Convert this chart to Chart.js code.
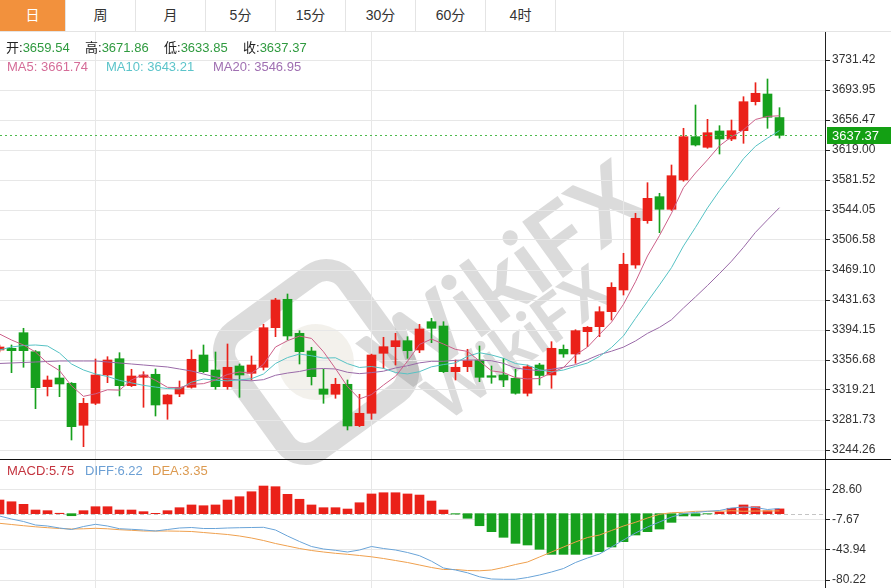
<!DOCTYPE html>
<html>
<head>
<meta charset="utf-8">
<script src="https://cdn.jsdelivr.net/npm/chart.js@4.4.1/dist/chart.umd.min.js"></script>
<style>
  body { margin: 0; width: 891px; height: 588px; overflow: hidden; background: #fff; position: relative;
         font-family: "Liberation Sans", "Noto Sans CJK SC", Arial, sans-serif; }
  #tabs { position: absolute; left: 0; top: 0; width: 891px; height: 31px; border-bottom: 1px solid #e4e4e4; display: flex; z-index: 3; background: #fff; }
  .tab { width: 70px; border-right: 1px solid #e4e4e4; box-sizing: border-box; text-align: center; line-height: 31px;
         font-size: 14px; color: #333; }
  .tab.on { width: 66px; background: #f2913d; color: #fff; }
  #main { position: absolute; left: 0; top: 32px; z-index: 1; }
  #macdBox { position: absolute; left: 0; top: 459px; width: 891px; height: 129px; border-top: 1px solid #111; box-sizing: border-box; z-index: 1; }
  .info { position: absolute; font-size: 13px; line-height: 16px; white-space: nowrap; z-index: 2; }
  .k { color: #222; } .g { color: #2f9a3f; }
  #wm { position: absolute; left: 0; top: 0; width: 891px; height: 588px; z-index: 0; overflow: hidden; }
  .wmtext { position: absolute; font: bold 96px Lato, sans-serif; color: rgba(110,110,110,0.25); white-space: nowrap;
            transform: translate(-50%, -50%) rotate(-36deg); }
  .wmlogo { position: absolute; width: 124px; height: 124px; border: 22px solid rgba(110,110,110,0.24); border-radius: 36px;
            transform: translate(-50%, -50%) rotate(-36deg); }
  .wmlogo::after { content: ""; position: absolute; left: 24px; top: 24px; width: 76px; height: 76px; border-radius: 50%;
            background: rgba(200,190,170,0.22); }
</style>
</head>
<body>
<div id="wm">
  <div class="wmlogo" style="left:316px; top:362px"></div>
  <div class="wmtext" style="left:502px; top:276px">WikiFX</div>
  <div class="wmtext" style="left:516px; top:342px; font-size:64px">WikiFX</div>
</div>

<div id="tabs">
  <div class="tab on">日</div><div class="tab">周</div><div class="tab">月</div><div class="tab">5分</div>
  <div class="tab">15分</div><div class="tab">30分</div><div class="tab">60分</div><div class="tab">4时</div>
</div>

<div class="info" style="left:6px; top:40px"><span class="k">开:</span><span class="g">3659.54</span></div>
<div class="info" style="left:85px; top:40px"><span class="k">高:</span><span class="g">3671.86</span></div>
<div class="info" style="left:164px; top:40px"><span class="k">低:</span><span class="g">3633.85</span></div>
<div class="info" style="left:243px; top:40px"><span class="k">收:</span><span class="g">3637.37</span></div>
<div class="info" style="left:7px; top:59px; color:#d56d98">MA5: 3661.74</div>
<div class="info" style="left:106px; top:59px; color:#5cc4ca">MA10: 3643.21</div>
<div class="info" style="left:213px; top:59px; color:#a070b2">MA20: 3546.95</div>

<canvas id="main" width="891" height="428"></canvas>
<div id="macdBox"><canvas id="macd" width="891" height="128"></canvas></div>

<div class="info" style="left:7px; top:463px; color:#c4343f">MACD:5.75</div>
<div class="info" style="left:85px; top:463px; color:#6b9fd4">DIFF:6.22</div>
<div class="info" style="left:152px; top:463px; color:#dc9a50">DEA:3.35</div>

<script>
// daily candles, oldest first (first one is cut by the left edge)
const opens = [3369.18, 3371.31, 3390.79, 3367.06, 3323.34, 3334.21, 3327.59, 3275.13, 3302.61, 3337.96,
  3358.32, 3324.59, 3335.08, 3338.83, 3301.73, 3314.23, 3322.59, 3362.94, 3344.20, 3323.34,
  3349.20, 3340.08, 3347.58, 3397.04, 3432.51, 3390.04, 3367.94, 3320.47, 3313.85, 3326.34,
  3274.63, 3290.12, 3365.06, 3373.31, 3380.80, 3369.18, 3404.53, 3399.16, 3342.08, 3348.33,
  3356.69, 3337.08, 3337.96, 3333.84, 3315.10, 3350.45, 3337.96, 3370.06, 3364.19, 3392.04,
  3398.29, 3417.03, 3444.13, 3475.36, 3530.69, 3560.67, 3544.93, 3581.53, 3635.62, 3622.38,
  3642.74, 3632.75, 3643.11, 3679.34, 3688.95, 3659.54];
const highs = [3375.43, 3375.43, 3396.29, 3368.50, 3336.71, 3350.07, 3328.50, 3308.85, 3357.94, 3360.82,
  3365.81, 3345.08, 3342.08, 3345.45, 3313.50, 3330.46, 3369.18, 3375.43, 3366.69, 3376.68,
  3351.70, 3361.69, 3401.29, 3433.76, 3439.13, 3393.29, 3372.56, 3345.08, 3333.84, 3331.71,
  3313.85, 3364.00, 3385.05, 3390.04, 3385.80, 3401.29, 3408.78, 3404.53, 3356.69, 3370.06,
  3374.18, 3349.20, 3358.82, 3345.08, 3350.45, 3352.57, 3379.55, 3375.43, 3394.50, 3398.50,
  3423.27, 3453.25, 3489.97, 3539.94, 3578.16, 3564.92, 3600.27, 3646.11, 3675.21, 3657.35,
  3649.36, 3656.48, 3685.58, 3703.07, 3707.69, 3671.86];
const lows = [3366.69, 3340.83, 3347.58, 3295.86, 3311.73, 3310.85, 3256.77, 3248.40, 3301.00, 3328.34,
  3311.73, 3323.50, 3297.61, 3286.74, 3282.62, 3310.85, 3321.50, 3341.00, 3320.10, 3320.10,
  3310.10, 3331.71, 3344.20, 3385.80, 3381.68, 3351.70, 3325.47, 3302.61, 3308.85, 3269.26,
  3273.50, 3282.62, 3346.33, 3350.45, 3358.82, 3365.81, 3378.30, 3341.00, 3331.71, 3342.08,
  3329.59, 3327.59, 3323.34, 3314.00, 3311.73, 3325.47, 3321.34, 3360.07, 3352.57, 3373.31,
  3385.80, 3406.66, 3437.89, 3471.24, 3527.45, 3515.70, 3543.50, 3580.00, 3624.00, 3621.13,
  3614.01, 3630.62, 3627.37, 3675.21, 3646.11, 3633.85];
const closes = [3372.93, 3368.31, 3368.31, 3322.09, 3331.71, 3326.72, 3273.38, 3302.61, 3337.96, 3356.69,
  3324.59, 3336.71, 3337.96, 3300.48, 3312.98, 3322.59, 3357.57, 3342.08, 3323.34, 3347.58,
  3337.96, 3350.45, 3397.04, 3431.64, 3386.67, 3367.06, 3335.83, 3313.85, 3326.34, 3274.25,
  3290.12, 3362.94, 3373.31, 3380.80, 3368.31, 3395.42, 3396.29, 3342.08, 3347.58, 3355.82,
  3335.08, 3335.08, 3331.71, 3315.10, 3348.33, 3337.33, 3371.31, 3364.19, 3393.29, 3397.54,
  3417.03, 3447.50, 3476.23, 3533.69, 3558.67, 3544.93, 3586.90, 3635.62, 3625.25, 3640.61,
  3632.75, 3643.11, 3679.34, 3689.83, 3659.85, 3637.37];

const ma5 = [3389.17, 3381.68, 3375.43, 3366.69, 3352.67, 3343.43, 3324.44, 3311.30, 3314.48, 3319.47,
  3319.05, 3331.71, 3338.78, 3331.29, 3322.54, 3322.14, 3326.32, 3327.14, 3331.71, 3338.63,
  3341.71, 3340.28, 3351.27, 3372.93, 3380.75, 3386.57, 3383.65, 3367.01, 3345.95, 3323.47,
  3308.08, 3313.50, 3325.39, 3336.28, 3355.10, 3376.16, 3382.83, 3376.58, 3369.94, 3367.44,
  3355.37, 3343.13, 3341.05, 3334.56, 3333.06, 3333.51, 3340.76, 3347.25, 3362.89, 3372.73,
  3388.67, 3403.91, 3426.32, 3454.40, 3486.62, 3512.20, 3540.08, 3571.96, 3590.27, 3606.66,
  3624.23, 3635.47, 3644.21, 3657.13, 3660.98, 3661.74];
const ma10 = [3369.18, 3372.93, 3374.80, 3375.43, 3374.18, 3365.44, 3351.70, 3344.20, 3339.21, 3336.07,
  3331.24, 3328.08, 3325.04, 3322.88, 3321.01, 3320.60, 3329.01, 3332.96, 3331.50, 3330.59,
  3331.93, 3333.30, 3339.21, 3352.32, 3359.69, 3364.14, 3361.97, 3359.14, 3359.44, 3352.11,
  3347.33, 3348.57, 3346.20, 3341.12, 3339.28, 3342.12, 3348.16, 3350.99, 3353.11, 3361.27,
  3365.76, 3362.98, 3358.82, 3352.25, 3350.25, 3344.44, 3341.94, 3344.15, 3348.72, 3352.90,
  3361.09, 3372.33, 3386.78, 3408.64, 3429.68, 3450.44, 3472.00, 3499.14, 3522.34, 3546.64,
  3568.22, 3587.78, 3608.09, 3623.70, 3633.82, 3643.21];
const ma20 = [3352.32, 3352.95, 3353.57, 3354.20, 3354.82, 3355.45, 3355.45, 3355.45, 3355.45, 3354.20,
  3352.95, 3351.70, 3350.45, 3349.20, 3347.95, 3345.45, 3342.95, 3339.21, 3335.46, 3333.33,
  3331.58, 3330.69, 3332.12, 3337.60, 3340.35, 3342.37, 3345.49, 3346.05, 3345.47, 3341.35,
  3339.63, 3340.94, 3342.70, 3346.72, 3349.49, 3353.13, 3355.06, 3355.06, 3356.28, 3356.69,
  3356.54, 3355.78, 3352.51, 3346.68, 3344.77, 3343.28, 3345.05, 3347.57, 3350.92, 3357.08,
  3363.43, 3367.66, 3372.80, 3380.45, 3389.96, 3397.44, 3406.97, 3421.65, 3435.53, 3449.77,
  3464.65, 3480.05, 3497.44, 3516.17, 3531.75, 3546.95];

const macdHist = [16.5, 14.4, 11.3, 4.4, 3.6, 0.5, -2.5, 3.6, 8.4, 8.4,
  4.4, 4.4, 2.4, 0.4, 3.6, 7.2, 10.5, 9.6, 10.5, 16.5,
  20.5, 26.5, 33.4, 32.6, 23.4, 17.4, 10.5, 7.2, 7.2, 5.6,
  13.2, 23.8, 25.3, 25.3, 23.8, 22.5, 15.3, 4.4, -0.5, -5.6,
  -14.6, -21.8, -28.6, -35.9, -37.9, -43.1, -49.2, -49.2, -49.2, -49.2,
  -46.0, -40.3, -33.9, -25.8, -21.8, -18.6, -10.5, -2.8, -2.8, -0.3,
  2.0, 6.5, 10.5, 8.4, 3.5, 5.75];
const diff = [-2.84, -6.47, -9.49, -13.73, -14.93, -17.35, -19.17, -15.54, -12.88, -14.93,
  -18.20, -18.92, -19.77, -20.98, -19.17, -17.35, -16.75, -17.96, -17.96, -17.35,
  -16.99, -16.75, -16.51, -19.77, -27.03, -33.68, -39.72, -42.74, -44.32, -46.37,
  -43.95, -39.72, -42.14, -43.95, -46.97, -50.84, -57.49, -65.71, -68.13, -71.51,
  -76.34, -79.01, -79.37, -79.37, -77.20, -74.18, -70.55, -66.32, -59.07, -53.63,
  -48.79, -40.33, -31.86, -23.40, -16.14, -10.10, -4.05, 0.18, 1.39, 2.84,
  3.81, 6.83, 8.04, 7.44, 5.02, 6.22];
const dea = [-11.67, -13.12, -14.57, -15.90, -16.99, -17.96, -18.56, -18.32, -17.72, -18.32,
  -19.41, -20.13, -20.98, -20.98, -20.98, -21.22, -21.58, -22.79, -24.00, -25.21,
  -27.03, -29.44, -32.47, -36.09, -39.12, -42.14, -44.56, -46.37, -47.94, -49.15,
  -50.60, -52.17, -54.23, -56.65, -59.07, -62.09, -65.11, -67.53, -67.53, -68.74,
  -69.10, -68.13, -65.11, -61.49, -58.46, -52.42, -46.37, -40.33, -34.28, -28.84,
  -25.82, -20.38, -14.94, -10.46, -5.26, -0.79, 1.15, 1.63, 2.84, 2.96,
  2.84, 3.57, 2.84, 3.20, 3.20, 3.35];

const priceTicks = [3731.42, 3693.95, 3656.47, 3619.00, 3581.52, 3544.05, 3506.58, 3469.10,
  3431.63, 3394.15, 3356.68, 3319.21, 3281.73, 3244.26];
const macdTicks = [28.60, -7.67, -43.94, -80.22];
const monthStarts = [9, 32, 53];   // candles where a new month begins

const RED = '#ea2119', GREEN = '#16a01d';
const FONT = '"Liberation Sans", Arial, sans-serif';

function pts(arr) { return arr.map((v, i) => ({ x: i + 1, y: v })); }

function xAxis() {
  return {
    type: 'linear', min: 1.0417, max: 69.7917, offset: false,
    afterBuildTicks: s => { s.ticks = monthStarts.map(v => ({ value: v })); },
    afterFit: s => { s.height = 0; s.paddingLeft = 0; s.paddingRight = 0; },
    grid: { color: '#e7e7e7', offset: false, drawTicks: false },
    border: { display: false },
    ticks: { display: false }
  };
}

function yAxis(min, max, tickVals) {
  return {
    position: 'right', min: min, max: max,
    afterBuildTicks: s => { s.ticks = tickVals.map(v => ({ value: v })); },
    afterFit: s => { s.width = 66; s.paddingTop = 0; s.paddingBottom = 0; },
    grid: { color: '#e7e7e7', tickColor: '#222', tickLength: 5 },
    border: { color: '#222' },
    ticks: { color: '#333', padding: 2, font: { size: 12, family: FONT }, callback: v => v.toFixed(2) }
  };
}

// dotted line at the last close plus the green price tag on the axis
const lastPrice = {
  id: 'lastPrice',
  afterDatasetsDraw(chart) {
    const { ctx, chartArea, scales: { y } } = chart;
    const py = Math.round(y.getPixelForValue(closes[closes.length - 1])) + 0.5;
    ctx.save();
    ctx.strokeStyle = '#4dbb4d';
    ctx.setLineDash([2, 3]);
    ctx.beginPath(); ctx.moveTo(chartArea.left, py); ctx.lineTo(chartArea.right, py); ctx.stroke();
    ctx.restore();
  },
  afterDraw(chart) {
    const { ctx, chartArea, scales: { y } } = chart;
    const last = closes[closes.length - 1];
    const py = Math.round(y.getPixelForValue(last));
    ctx.save();
    ctx.fillStyle = '#13a013';
    ctx.fillRect(chartArea.right + 2, py - 8, chart.width - chartArea.right - 2, 17);
    ctx.fillStyle = '#fff';
    ctx.font = '13px ' + FONT;
    ctx.textBaseline = 'middle';
    ctx.fillText(last.toFixed(2), chartArea.right + 7, py + 1);
    ctx.restore();
  }
};

const zeroLine = {
  id: 'zeroLine',
  beforeDatasetsDraw(chart) {
    const { ctx, chartArea, scales: { y } } = chart;
    const py = Math.round(y.getPixelForValue(0)) + 0.5;
    ctx.save();
    ctx.strokeStyle = '#c4c4c4';
    ctx.setLineDash([4, 3]);
    ctx.beginPath(); ctx.moveTo(chartArea.left, py); ctx.lineTo(chartArea.right, py); ctx.stroke();
    ctx.restore();
  }
};

const candleColors = closes.map((c, i) => c >= opens[i] ? RED : GREEN);

new Chart(document.getElementById('main'), {
  type: 'bar',
  data: {
    datasets: [
      { type: 'line', data: pts(ma5), borderColor: '#cc6089', borderWidth: 1, pointRadius: 0, order: 0 },
      { type: 'line', data: pts(ma10), borderColor: '#56c2c4', borderWidth: 1, pointRadius: 0, order: 0 },
      { type: 'line', data: pts(ma20), borderColor: '#9a6aa8', borderWidth: 1, pointRadius: 0, order: 0 },
      {
        data: closes.map((c, i) => ({ x: i + 1, y: [opens[i], c] })),
        backgroundColor: candleColors, barThickness: 9, grouped: false, minBarLength: 1, order: 1
      },
      {
        data: closes.map((c, i) => ({ x: i + 1, y: [lows[i], highs[i]] })),
        backgroundColor: candleColors, barThickness: 1, grouped: false, order: 2
      }
    ]
  },
  options: {
    responsive: false,
    animation: false,
    layout: { padding: 0 },
    plugins: { legend: { display: false }, tooltip: { enabled: false } },
    scales: { x: xAxis(), y: yAxis(3231.77, 3766.40, priceTicks) }
  },
  plugins: [lastPrice]
});

new Chart(document.getElementById('macd'), {
  type: 'bar',
  data: {
    datasets: [
      { type: 'line', data: pts(diff), borderColor: '#6aa4d8', borderWidth: 1, pointRadius: 0, order: 0 },
      { type: 'line', data: pts(dea), borderColor: '#efa04e', borderWidth: 1, pointRadius: 0, order: 0 },
      {
        data: pts(macdHist),
        backgroundColor: macdHist.map(v => v >= 0 ? RED : GREEN),
        barThickness: 9, grouped: false, order: 1
      }
    ]
  },
  options: {
    responsive: false,
    animation: false,
    layout: { padding: 0 },
    plugins: { legend: { display: false }, tooltip: { enabled: false } },
    scales: { x: xAxis(), y: yAxis(-89.89, 64.87, macdTicks) }
  },
  plugins: [zeroLine]
});
</script>
</body>
</html>
